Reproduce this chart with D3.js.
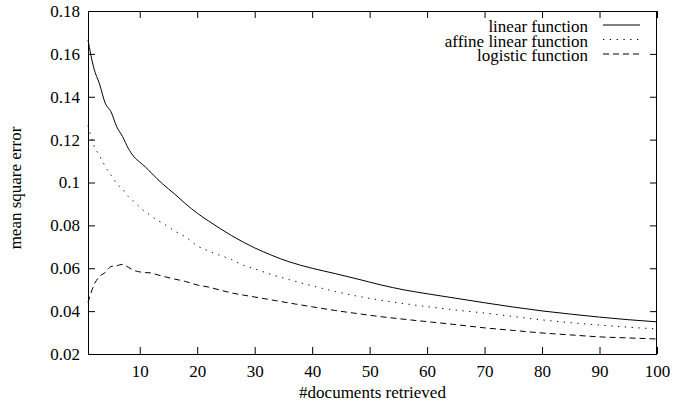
<!DOCTYPE html>
<html>
<head>
<meta charset="utf-8">
<script src="https://cdn.jsdelivr.net/npm/d3@7"></script>
<style>
  html, body { margin: 0; padding: 0; background: #fff; }
  svg { display: block; }
  text { font-family: "Liberation Serif", "Times New Roman", Times, "DejaVu Serif", serif; fill: #000; }
</style>
</head>
<body>
<svg id="chart" width="675" height="407"></svg>
<script>
// Mean square error against number of retrieved documents
const docsLinear = [1,2,3,4,5,6,7,8,9,10,11,12,13,14,16,18,20,22,24,26,28,30,33,36,40,44,48,52,56,60,65,70,75,80,85,90,95,100];
const mseLinear = [0.1665,0.1535,0.146,0.137,0.133,0.126,0.1215,0.116,0.112,0.1095,0.1072,0.1045,0.1018,0.0993,0.0948,0.0900,0.0857,0.082,0.0785,0.0752,0.0722,0.0695,0.066,0.063,0.060,0.0575,0.0549,0.0522,0.0499,0.0481,0.046,0.0439,0.0419,0.0401,0.0386,0.0372,0.036,0.035];

const docsAffine = [1,2,3,4,5,6,7,8,9,10,11,12,13,14,16,18,20,22,24,26,28,30,33,36,40,44,48,52,56,60,65,70,75,80,85,90,95,100];
const mseAffine = [0.1265,0.1175,0.1125,0.1075,0.1035,0.0995,0.097,0.0935,0.091,0.0885,0.0862,0.0845,0.0825,0.081,0.0775,0.0745,0.0705,0.068,0.066,0.064,0.0614,0.0597,0.057,0.0547,0.0518,0.0492,0.0469,0.0451,0.0435,0.0421,0.0405,0.0391,0.0375,0.0359,0.0346,0.0335,0.0325,0.0317];

const docsLogistic = [1,2,3,4,5,6,7,8,9,10,11,12,13,14,16,18,20,22,24,26,28,30,33,36,40,44,48,52,56,60,65,70,75,80,85,90,95,100];
const mseLogistic = [0.044,0.052,0.0562,0.058,0.0608,0.0612,0.0618,0.0605,0.059,0.0583,0.058,0.0578,0.057,0.0563,0.055,0.0538,0.0522,0.0512,0.0498,0.0485,0.0475,0.0466,0.0452,0.0438,0.042,0.0403,0.0388,0.0374,0.0362,0.0351,0.0337,0.0322,0.031,0.0298,0.0289,0.028,0.0275,0.027];

const xTicks = [10,20,30,40,50,60,70,80,90,100];
const yTicks = [0.02,0.04,0.06,0.08,0.10,0.12,0.14,0.16,0.18];
const yTickLabels = ["0.02","0.04","0.06","0.08","0.1","0.12","0.14","0.16","0.18"];

const seriesNames = ["linear function","affine linear function","logistic function"];

const series = [
  { name: seriesNames[0], xs: docsLinear, ys: mseLinear, dash: null },
  { name: seriesNames[1], xs: docsAffine, ys: mseAffine, dash: "1.3,5.5" },
  { name: seriesNames[2], xs: docsLogistic, ys: mseLogistic, dash: "6,4" }
];

const plot = { left: 88, right: 657, top: 11, bottom: 354 };
const svg = d3.select("#chart");

const x = d3.scaleLinear().domain([1, 100]).range([plot.left, plot.right]);
const y = d3.scaleLinear().domain([0.02, 0.18]).range([plot.bottom, plot.top]);

const tickLen = 7;
const fontSize = 17;
const serif = "Liberation Serif, Times New Roman, Times, serif";

// Axes: inward ticks on all four sides, gnuplot-style frame
const axisB = d3.axisBottom(x).tickValues(xTicks).tickSize(-tickLen).tickFormat(d3.format("d")).tickPadding(11);
const axisT = d3.axisTop(x).tickValues(xTicks).tickSize(-tickLen).tickFormat("");
const axisL = d3.axisLeft(y).tickValues(yTicks).tickSize(-tickLen).tickPadding(8)
  .tickFormat((d, i) => yTickLabels[i]);
const axisR = d3.axisRight(y).tickValues(yTicks).tickSize(-tickLen).tickFormat("");

function styleAxis(g) {
  g.attr("font-family", serif);
  g.select(".domain").remove();
  g.selectAll(".tick line").attr("stroke", "#000").attr("stroke-width", 1);
  g.selectAll(".tick text").attr("font-size", fontSize).attr("fill", "#000");
}

svg.append("g").attr("transform", `translate(0,${plot.bottom})`).call(axisB).call(styleAxis);
svg.append("g").attr("transform", `translate(0,${plot.top})`).call(axisT).call(styleAxis);
svg.append("g").attr("transform", `translate(${plot.left},0)`).call(axisL).call(styleAxis);
svg.append("g").attr("transform", `translate(${plot.right},0)`).call(axisR).call(styleAxis);

// Frame
svg.append("rect")
  .attr("x", plot.left + 0.5).attr("y", plot.top + 0.5)
  .attr("width", plot.right - plot.left - 1).attr("height", plot.bottom - plot.top)
  .attr("fill", "none").attr("stroke", "#000").attr("stroke-width", 1);

// Curves
const line = d3.line().x(d => x(d[0])).y(d => y(d[1])).curve(d3.curveMonotoneX);
series.forEach(s => {
  const pts = s.xs.map((v, i) => [v, s.ys[i]]);
  svg.append("path")
    .datum(pts)
    .attr("d", line)
    .attr("fill", "none")
    .attr("stroke", "#000")
    .attr("stroke-width", 1)
    .attr("stroke-dasharray", s.dash);
});

// Legend, top-right, rows packed tightly
const legend = svg.append("g");
series.forEach((s, i) => {
  const by = 32 + i * 14.5;
  legend.append("text")
    .attr("x", 588).attr("y", by)
    .attr("text-anchor", "end")
    .attr("font-size", fontSize)
    .text(s.name);
  legend.append("line")
    .attr("x1", 603).attr("x2", 640)
    .attr("y1", by - 7).attr("y2", by - 7)
    .attr("stroke", "#000").attr("stroke-width", 1)
    .attr("stroke-dasharray", s.dash);
});

// Axis titles
svg.append("text")
  .attr("x", (plot.left + plot.right) / 2).attr("y", 398)
  .attr("text-anchor", "middle")
  .attr("font-size", fontSize)
  .text("#documents retrieved");

svg.append("text")
  .attr("transform", `translate(21,188) rotate(-90)`)
  .attr("text-anchor", "middle")
  .attr("font-size", fontSize)
  .text("mean square error");
</script>
</body>
</html>
